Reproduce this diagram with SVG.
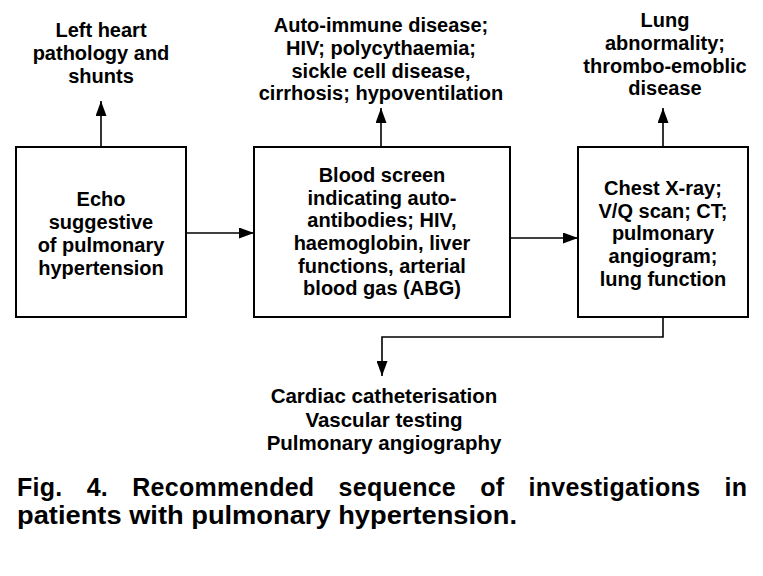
<svg xmlns="http://www.w3.org/2000/svg" width="763" height="576" viewBox="0 0 763 576">
<style>
text{font-family:"Liberation Sans",Arial,sans-serif;font-weight:bold;fill:#000;text-anchor:middle}
.t{font-size:20px}
.b{font-size:20.5px}
.cap{font-size:25px;text-anchor:start}
.box{fill:#fff;stroke:#000;stroke-width:2}
.ln{fill:none;stroke:#000;stroke-width:1.6}
</style>
<defs>
<marker id="ah" markerWidth="15" markerHeight="11" refX="15" refY="5.5" orient="auto" markerUnits="userSpaceOnUse">
<path d="M0,0 L15,5.5 L0,11 Z" fill="#000"/>
</marker>
</defs>
<rect width="763" height="576" fill="#fff"/>
<g id="connectors">
<line class="ln" x1="101" y1="147" x2="101" y2="101" marker-end="url(#ah)"/>
<line class="ln" x1="186" y1="233" x2="254" y2="233" marker-end="url(#ah)"/>
<line class="ln" x1="381" y1="147" x2="381" y2="108" marker-end="url(#ah)"/>
<line class="ln" x1="510" y1="238" x2="578" y2="238" marker-end="url(#ah)"/>
<line class="ln" x1="663" y1="147" x2="663" y2="108" marker-end="url(#ah)"/>
<polyline class="ln" points="663,317 663,337 382,337 382,376" marker-end="url(#ah)"/>
</g>
<g id="echo">
<rect class="box" x="16" y="147" width="170" height="170"/>
<text class="t" x="101" y="206">Echo</text>
<text class="t" x="101" y="229">suggestive</text>
<text class="t" x="101" y="252">of pulmonary</text>
<text class="t" x="101" y="275">hypertension</text>
</g>
<g id="blood">
<rect class="box" x="254" y="147" width="256" height="170"/>
<text class="t" x="382" y="182">Blood screen</text>
<text class="t" x="382" y="205">indicating auto-</text>
<text class="t" x="382" y="227">antibodies; HIV,</text>
<text class="t" x="382" y="250">haemoglobin, liver</text>
<text class="t" x="382" y="273">functions, arterial</text>
<text class="t" x="382" y="295">blood gas (ABG)</text>
</g>
<g id="chest">
<rect class="box" x="578" y="147" width="170" height="170"/>
<text class="t" x="663" y="195">Chest X-ray;</text>
<text class="t" x="663" y="218">V/Q scan; CT;</text>
<text class="t" x="663" y="240">pulmonary</text>
<text class="t" x="663" y="263">angiogram;</text>
<text class="t" x="663" y="286">lung function</text>
</g>
<g id="left-heart">
<text class="t" x="101" y="37">Left heart</text>
<text class="t" x="101" y="60">pathology and</text>
<text class="t" x="101" y="83">shunts</text>
</g>
<g id="auto-immune">
<text class="t" x="381" y="32">Auto-immune disease;</text>
<text class="t" x="381" y="55">HIV; polycythaemia;</text>
<text class="t" x="381" y="78">sickle cell disease,</text>
<text class="t" x="381" y="100">cirrhosis; hypoventilation</text>
</g>
<g id="lung">
<text class="t" x="665" y="27">Lung</text>
<text class="t" x="665" y="50">abnormality;</text>
<text class="t" x="665" y="73">thrombo-emoblic</text>
<text class="t" x="665" y="95">disease</text>
</g>
<g id="cardiac">
<text class="b" x="384" y="403">Cardiac catheterisation</text>
<text class="b" x="384" y="427">Vascular testing</text>
<text class="b" x="384" y="450">Pulmonary angiography</text>
</g>
<g id="caption">
<text class="cap" x="17" y="496" textLength="730" lengthAdjust="spacing" word-spacing="17">Fig. 4. Recommended sequence of investigations in</text>
<text class="cap" x="17" y="524" textLength="500" lengthAdjust="spacingAndGlyphs">patients with pulmonary hypertension.</text>
</g>
</svg>
